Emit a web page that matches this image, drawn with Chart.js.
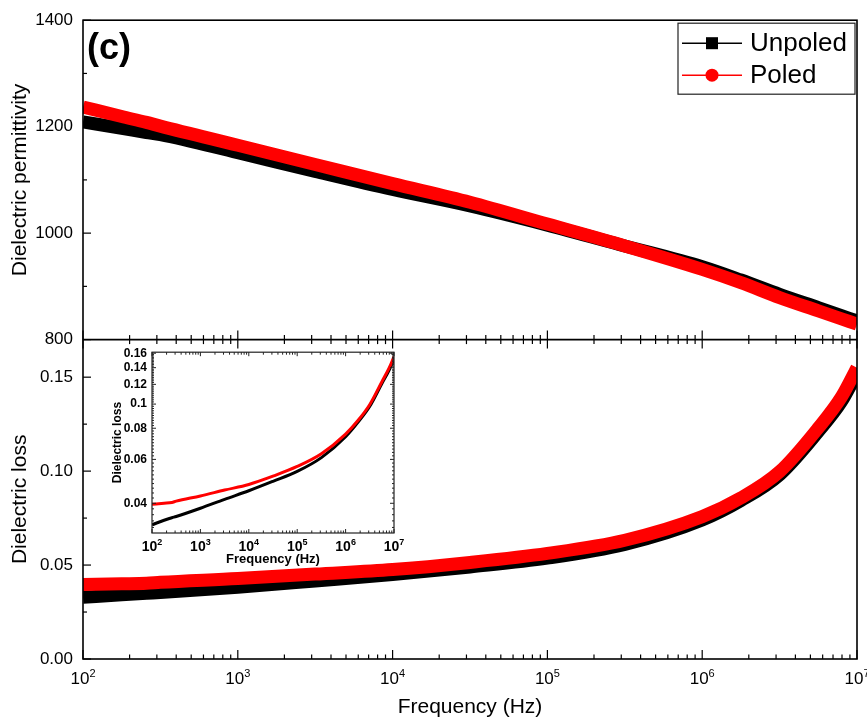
<!DOCTYPE html>
<html>
<head>
<meta charset="utf-8">
<title>Dielectric permittivity and loss vs frequency</title>
<script src="https://cdn.jsdelivr.net/npm/chart.js@4.4.1/dist/chart.umd.min.js"></script>
<style>
  html, body { margin: 0; padding: 0; background: #fff; }
  #wrap { position: relative; width: 867px; height: 720px; }
  #main { position: absolute; left: 0; top: 0; }
  #inset { position: absolute; left: 100px; top: 340px; }
</style>
</head>
<body>
<div id="wrap">
  <canvas id="main" width="867" height="720"></canvas>
  <canvas id="inset" width="310" height="230"></canvas>
</div>
<script>
const FONT = '"Liberation Sans", Arial, Helvetica, sans-serif';

// measurement frequencies (Hz)
const freq = [100, 178, 257, 316, 1000, 3162, 10000, 31623, 100000, 316228,
  1000000, 1778279, 3162278, 5623413, 7943282, 10000000];

// dielectric permittivity
const permUnpoled = [1209, 1197, 1189, 1185, 1151, 1116, 1082, 1051, 1015, 976,
  937, 912, 885, 860, 845, 835];
const permPoled = [1237, 1219, 1208, 1201, 1165, 1129, 1093, 1058, 1017, 976,
  932, 907, 879, 854, 839, 829];

// dielectric loss
const lossUnpoled = [0.0328, 0.0342, 0.0350, 0.0354, 0.0382, 0.0415, 0.0449, 0.0490, 0.0537, 0.0610,
  0.0740, 0.0843, 0.0980, 0.121, 0.137, 0.152];
const lossPoled = [0.0396, 0.0400, 0.0403, 0.0408, 0.0428, 0.0452, 0.0476, 0.0514, 0.0562, 0.0632,
  0.0758, 0.0857, 0.0997, 0.123, 0.1396, 0.155];

// axis ticks
const permTickValues = [800, 900, 1000, 1100, 1200, 1300, 1400];
const permTickLabels = ['800', '', '1000', '', '1200', '', '1400'];
const lossTickValues = [0, 0.025, 0.05, 0.075, 0.1, 0.125, 0.15];
const lossTickLabels = ['0.00', '', '0.05', '', '0.10', '', '0.15'];
const decadeValues = [1e2, 1e3, 1e4, 1e5, 1e6, 1e7];
const decadeExponents = ['2', '3', '4', '5', '6', '7'];
const insetTickValues = [0.04, 0.06, 0.08, 0.1, 0.12, 0.14, 0.16];
const insetTickLabels = ['0.04', '0.06', '0.08', '0.1', '0.12', '0.14', '0.16'];

const pts = ys => freq.map((f, i) => ({ x: f, y: ys[i] }));

function line(ctx, x1, y1, x2, y2) {
  ctx.beginPath();
  ctx.moveTo(x1, y1);
  ctx.lineTo(x2, y2);
  ctx.stroke();
}

// 2..9 x 10^n between the decades
function logMinors() {
  const out = [];
  for (let i = 0; i < decadeValues.length - 1; i++) {
    for (let k = 2; k <= 9; k++) out.push(decadeValues[i] * k);
  }
  return out;
}

function drawDecadeLabels(ctx, xScale, y, size, supSize, weight) {
  ctx.fillStyle = '#000';
  ctx.textAlign = 'left';
  ctx.textBaseline = 'alphabetic';
  decadeValues.forEach((v, i) => {
    const px = xScale.getPixelForValue(v);
    ctx.font = `${weight} ${size}px ${FONT}`;
    const wb = ctx.measureText('10').width;
    ctx.font = `${weight} ${supSize}px ${FONT}`;
    const we = ctx.measureText(decadeExponents[i]).width;
    const x0 = px - (wb + we) / 2;
    ctx.font = `${weight} ${size}px ${FONT}`;
    ctx.fillText('10', x0, y);
    ctx.font = `${weight} ${supSize}px ${FONT}`;
    ctx.fillText(decadeExponents[i], x0 + wb, y - size * 0.42);
  });
}

// frame, inward ticks, decade labels, panel tag and legend
const mainDecor = {
  id: 'mainDecor',
  afterDraw(chart) {
    const { ctx, chartArea: a, scales: { x, yP, yL } } = chart;
    ctx.save();
    ctx.strokeStyle = '#000';
    ctx.lineWidth = 1.6;
    ctx.strokeRect(a.left, a.top, a.right - a.left, a.bottom - a.top);
    line(ctx, a.left, yP.bottom, a.right, yP.bottom);

    ctx.lineWidth = 1.2;
    for (const s of [yP, yL]) {
      s.ticks.forEach(t => {
        const y = s.getPixelForValue(t.value);
        line(ctx, a.left, y, a.left + (t.label ? 8 : 4), y);
      });
    }
    const xt = decadeValues.map(v => [v, 9]).concat(logMinors().map(v => [v, 4.5]));
    for (const [v, len] of xt) {
      const px = x.getPixelForValue(v);
      line(ctx, px, a.bottom, px, a.bottom - len);
      line(ctx, px, yP.bottom - len, px, yP.bottom + len);
    }

    drawDecadeLabels(ctx, x, a.bottom + 25, 17, 11, 'normal');

    ctx.font = `bold 36px ${FONT}`;
    ctx.fillText('(c)', a.left + 4, a.top + 39);

    // legend
    const bx = a.right - 179, by = a.top + 3, bw = 177, bh = 71;
    ctx.fillStyle = '#fff';
    ctx.fillRect(bx, by, bw, bh);
    ctx.lineWidth = 1.2;
    ctx.strokeStyle = '#222';
    ctx.strokeRect(bx, by, bw, bh);
    chart.data.datasets.slice(0, 2).forEach((ds, i) => {
      const cy = by + 20 + i * 32;
      ctx.strokeStyle = ds.borderColor;
      ctx.fillStyle = ds.borderColor;
      ctx.lineWidth = 1.5;
      line(ctx, bx + 4, cy, bx + 64, cy);
      if (ds.pointStyle === 'rect') {
        ctx.fillRect(bx + 28, cy - 6, 12, 12);
      } else {
        ctx.beginPath();
        ctx.arc(bx + 34, cy, 6.5, 0, Math.PI * 2);
        ctx.fill();
      }
      ctx.fillStyle = '#000';
      ctx.font = `26px ${FONT}`;
      ctx.textBaseline = 'middle';
      ctx.fillText(ds.label, bx + 72, cy + 1);
    });
    ctx.restore();
  }
};

new Chart(document.getElementById('main'), {
  type: 'line',
  data: {
    datasets: [
      { label: 'Unpoled', data: pts(permUnpoled), yAxisID: 'yP', borderColor: '#000000', pointStyle: 'rect', borderWidth: 13, order: 2 },
      { label: 'Poled', data: pts(permPoled), yAxisID: 'yP', borderColor: '#ff0000', pointStyle: 'circle', borderWidth: 13, order: 1 },
      { label: 'Unpoled', data: pts(lossUnpoled), yAxisID: 'yL', borderColor: '#000000', pointStyle: 'rect', borderWidth: 13, order: 2 },
      { label: 'Poled', data: pts(lossPoled), yAxisID: 'yL', borderColor: '#ff0000', pointStyle: 'circle', borderWidth: 13, order: 1 }
    ]
  },
  options: {
    responsive: false,
    animation: false,
    events: [],
    layout: { padding: { top: 19, right: 10, left: 0, bottom: 0 } },
    elements: {
      point: { radius: 0, hoverRadius: 0 },
      line: { cubicInterpolationMode: 'monotone', borderCapStyle: 'butt', fill: false }
    },
    plugins: { legend: { display: false }, tooltip: { enabled: false } },
    scales: {
      x: {
        type: 'logarithmic', min: 100, max: 1e7,
        grid: { display: false, drawTicks: false },
        border: { display: false },
        ticks: { display: false },
        title: { display: true, text: 'Frequency (Hz)', color: '#000', font: { family: FONT, size: 21 }, padding: 0 },
        afterFit: s => { s.height = 61; }
      },
      yL: {
        type: 'linear', position: 'left', stack: 'panels', min: 0, max: 0.17,
        afterBuildTicks: s => { s.ticks = lossTickValues.map(v => ({ value: v })); },
        ticks: { color: '#000', font: { family: FONT, size: 17 }, padding: 10, callback: (v, i) => lossTickLabels[i] },
        grid: { display: false, drawTicks: false },
        border: { display: false },
        title: { display: true, text: 'Dielectric loss', color: '#000', font: { family: FONT, size: 21 }, padding: { top: 8 } },
        afterFit: s => { s.width = 83; }
      },
      yP: {
        type: 'linear', position: 'left', stack: 'panels', min: 800, max: 1400,
        afterBuildTicks: s => { s.ticks = permTickValues.map(v => ({ value: v })); },
        ticks: { color: '#000', font: { family: FONT, size: 17 }, padding: 10, callback: (v, i) => permTickLabels[i] },
        grid: { display: false, drawTicks: false },
        border: { display: false },
        title: { display: true, text: 'Dielectric permittivity', color: '#000', font: { family: FONT, size: 21 }, padding: { top: 8 } },
        afterFit: s => { s.width = 83; }
      }
    }
  },
  plugins: [mainDecor]
});

// inset: loss on a log axis
const insetDecor = {
  id: 'insetDecor',
  beforeDraw(chart) {
    const { ctx, chartArea: a } = chart;
    ctx.save();
    ctx.fillStyle = '#fff';
    ctx.fillRect(a.left, a.top, a.right - a.left, a.bottom - a.top);
    ctx.restore();
  },
  afterDraw(chart) {
    const { ctx, chartArea: a, scales: { x, y } } = chart;
    ctx.save();
    ctx.strokeStyle = '#222';
    ctx.lineWidth = 1.2;
    ctx.strokeRect(a.left, a.top, a.right - a.left, a.bottom - a.top);
    ctx.lineWidth = 1;
    const xt = decadeValues.map(v => [v, 4]).concat(logMinors().map(v => [v, 2.5]));
    for (const [v, len] of xt) {
      const px = x.getPixelForValue(v);
      line(ctx, px, a.bottom, px, a.bottom - len);
      line(ctx, px, a.top, px, a.top + len);
    }
    const yt = insetTickValues.map(v => [v, 4]);
    for (let m = 32; m <= 160; m += 2) {
      if (m % 20 !== 0) yt.push([m / 1000, 2]);
    }
    for (const [v, len] of yt) {
      const py = y.getPixelForValue(v);
      line(ctx, a.left, py, a.left + len, py);
      line(ctx, a.right, py, a.right - len, py);
    }
    drawDecadeLabels(ctx, x, a.bottom + 18, 14, 9, 'bold');
    ctx.restore();
  }
};

new Chart(document.getElementById('inset'), {
  type: 'line',
  data: {
    datasets: [
      { label: 'Unpoled', data: pts(lossUnpoled), borderColor: '#000000', borderWidth: 3, order: 2 },
      { label: 'Poled', data: pts(lossPoled), borderColor: '#ff0000', borderWidth: 3, order: 1 }
    ]
  },
  options: {
    responsive: false,
    animation: false,
    events: [],
    layout: { padding: { top: 10, right: 16, left: 0, bottom: 0 } },
    elements: {
      point: { radius: 0, hoverRadius: 0 },
      line: { cubicInterpolationMode: 'monotone', fill: false }
    },
    plugins: { legend: { display: false }, tooltip: { enabled: false } },
    scales: {
      x: {
        type: 'logarithmic', min: 100, max: 1e7,
        grid: { display: false, drawTicks: false },
        border: { display: false },
        ticks: { display: false },
        title: { display: true, text: 'Frequency (Hz)', color: '#000', font: { family: FONT, size: 13, weight: 'bold' }, padding: { bottom: 3 } },
        afterFit: s => { s.height = 37; }
      },
      y: {
        type: 'logarithmic', min: 0.0304, max: 0.1615,
        afterBuildTicks: s => { s.ticks = insetTickValues.map(v => ({ value: v })); },
        ticks: { color: '#000', font: { family: FONT, size: 12, weight: 'bold' }, padding: 5, callback: (v, i) => insetTickLabels[i] },
        grid: { display: false, drawTicks: false },
        border: { display: false },
        title: { display: true, text: 'Dielectric loss', color: '#000', font: { family: FONT, size: 12, weight: 'bold' }, padding: { top: 10 } },
        afterFit: s => { s.width = 52; }
      }
    }
  },
  plugins: [insetDecor]
});
</script>
</body>
</html>
